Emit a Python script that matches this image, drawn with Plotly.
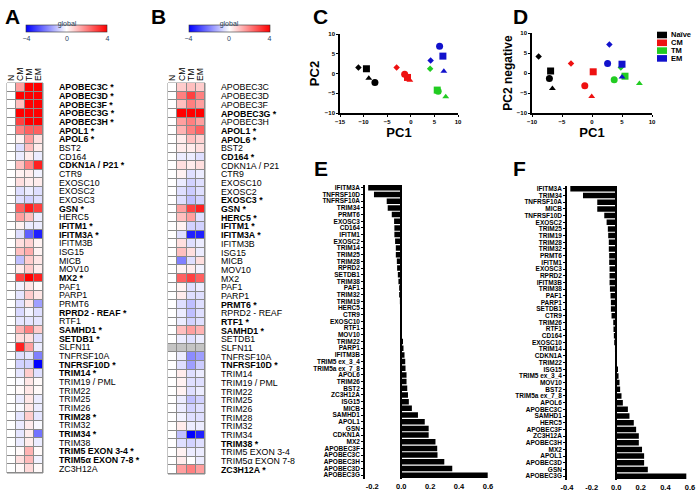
import plotly.graph_objects as go

FONT = "Liberation Sans"

# ---------------- heatmap data (A, B) ----------------
rows = ["APOBEC3C", "APOBEC3D", "APOBEC3F", "APOBEC3G", "APOBEC3H", "APOL1", "APOL6",
        "BST2", "CD164", "CDKN1A / P21", "CTR9", "EXOSC10", "EXOSC2", "EXOSC3", "GSN",
        "HERC5", "IFITM1", "IFITM3A", "IFITM3B", "ISG15", "MICB", "MOV10", "MX2", "PAF1",
        "PARP1", "PRMT6", "RPRD2 - REAF", "RTF1", "SAMHD1", "SETDB1", "SLFN11",
        "TNFRSF10A", "TNFRSF10D", "TRIM14", "TRIM19 / PML", "TRIM22", "TRIM25", "TRIM26",
        "TRIM28", "TRIM32", "TRIM34", "TRIM38", "TRIM5 EXON 3-4", "TRIM5α EXON 7-8",
        "ZC3H12A"]
cols = ["N", "CM", "TM", "EM"]

a_n = [0, 0, 0, 0, 0, 0, 0, 0, 0, 0, 0, 0, 0, 0, 0, 0, 0, 0, 0, 0, 0, 0, 0,
       0, 0, 0, 0, 0, 0, 0, 0, 0, 0, 0, 0, 0, 0, 0, 0, 0, 0, 0, 0, 0, 0]
a_cm = [1.5, 4, 1, 4, 3, 2, 0.2, -0.5, -0.3, 1, 0.2, 0.5, -0.5, -0.5, 2.5, 1.5, 0.2, -0.5,
        0.5, 1, -1, 0.3, 3, -0.2, -0.4, -0.5, -0.6, -0.4, 1.2, 0.5, 3.5, -0.5, -0.7,
        -0.4, -0.1, 0.1, -0.3, -0.1, -0.4, -0.3, -0.4, -0.3, 0.1, 0.5, 0.1]
a_tm = [4, 4, 4, 4, 4, 2.5, 1.5, 1, 0.3, 2, 0.3, 0.3, -0.3, -0.7, 3.5, 1, -0.3, -2.5,
        0.7, 1.3, 0.8, 0.8, 4, 0.4, 0.8, 0.4, -0.2, -0.4, 2, 0.5, 1.5, -0.4, -0.7,
        0.8, 0.4, 0.4, 0.4, 0.4, 0.8, 0.3, 0.3, 0.3, 1.2, 1.1, 0.6]
a_em = [4, 4, 4, 4, 4, 2.5, 0.5, 0.3, -0.3, 3.5, -0.2, 0.3, -0.5, -0.5, 3, -0.3, -0.3,
        -3.5, 0.2, 0.2, 0.4, 0.3, 3.5, 0.1, 0.4, -1.5, -0.5, -0.4, 0.8, -0.5, -0.3,
        -2, -4, -0.5, 0.1, 0.1, -0.3, -0.3, -0.4, -0.1, -2.2, -0.3, 0.1, -0.2, 0.1]
a_sig = ["APOBEC3C", "APOBEC3D", "APOBEC3F", "APOBEC3G", "APOBEC3H", "APOL1", "APOL6",
         "CDKN1A / P21", "GSN", "IFITM1", "IFITM3A", "MX2", "RPRD2 - REAF", "SAMHD1",
         "SETDB1", "TNFRSF10D", "TRIM14", "TRIM28", "TRIM34", "TRIM5 EXON 3-4",
         "TRIM5α EXON 7-8"]

b_n = [0, 0, 0, 0, 0, 0, 0, 0, 0, 0, 0, 0, 0, 0, 0, 0, 0, 0, 0, 0, 0, 0, 0,
       0, 0, 0, 0, 0, 0, 0, None, 0, 0, 0, 0, 0, 0, 0, 0, 0, 0, 0, 0, 0, 0]
b_cm = [0.8, 2, 1, 4, 1.5, 1.2, 0.3, 0.3, -0.3, 0.5, 0.2, -0.3, -0.5, -0.5, 1.5, 1, 0.2,
        -0.5, 0.5, 1, -2, 0.2, 2.5, 0.2, 0.3, -0.5, -0.3, -0.3, 1, -0.3, None, -0.3,
        -0.5, 0.3, 0.2, 0.2, -0.3, -0.3, -0.2, 0.3, -1, -0.5, 0.2, 0.3, 1.5]
b_tm = [1, 3, 2, 4, 2, 2, 1, 0.3, -0.3, 0.3, -0.5, -0.7, -0.8, -1, 3, 1.5, -0.7, -3.5,
        -0.5, 0.5, -0.5, 0.3, 3, -0.5, -0.5, -1, -1, -0.7, 1.5, -0.5, None, -1.8,
        -1.5, -0.5, -0.5, -0.5, -1, -0.7, -0.5, -0.3, -4, -0.7, -0.3, 0, 2]
b_em = [0.8, 2, 1.5, 4, 1.5, 2.5, 0.7, 0.5, -0.5, 0.5, -0.3, -0.5, -0.5, -0.7, 3.5,
        -0.5, -0.7, -3.5, -0.3, -0.3, 0.5, -0.2, 2.5, -0.3, -0.5, -0.5, -0.5, -0.5,
        1.2, -0.3, None, -1.5, -0.8, -0.3, -0.5, -0.3, -0.7, -0.5, -0.5, -0.3, -3.5,
        -0.5, -0.3, -0.3, 1.5]
b_sig = ["APOBEC3G", "APOL1", "APOL6", "CD164", "EXOSC3", "GSN", "HERC5", "IFITM1",
         "IFITM3A", "PRMT6", "RTF1", "SAMHD1", "TNFRSF10D", "TRIM38", "ZC3H12A"]

# ---------------- PCA data (C, D) ----------------
groups = ["Naïve", "CM", "TM", "EM"]
donors = ["diamond", "square", "triangle-up", "circle"]
c_x = {"Naïve": [-11.1, -9.4, -8.9, -7.6], "CM": [-3.0, -0.7, -0.2, -1.3],
       "TM": [4.1, 5.6, 7.4, 5.8], "EM": [4.2, 6.8, 7.0, 6.1]}
c_y = {"Naïve": [1.5, 1.2, -1.2, -2.3], "CM": [1.5, -1.0, -1.7, -0.2],
       "TM": [1.2, -4.2, -5.9, -4.5], "EM": [3.3, 4.4, 0.6, 6.9]}
d_x = {"Naïve": [-8.9, -6.9, -6.6, -7.1], "CM": [-3.5, 0.2, -0.05, -1.2],
       "TM": [4.8, 5.5, 7.9, 3.7], "EM": [2.9, 5.0, 5.0, 2.6]}
d_y = {"Naïve": [4.1, 0.5, -3.9, -1.4], "CM": [2.4, 0.3, -5.9, -3.2],
       "TM": [1.4, -0.8, -2.6, -1.7], "EM": [7.1, 2.2, -1.0, 2.4]}

# ---------------- correlation bars (E, F) ----------------
e_genes = ["IFITM3A", "TNFRSF10D", "TNFRSF10A", "TRIM34", "PRMT6", "EXOSC3", "CD164",
           "IFITM1", "EXOSC2", "TRIM14", "TRIM25", "TRIM28", "RPRD2", "SETDB1", "TRIM38",
           "PAF1", "TRIM32", "TRIM19", "HERC5", "CTR9", "EXOSC10", "RTF1", "MOV10",
           "TRIM22", "PARP1", "IFITM3B", "TRIM5 ex_3_4", "TRIM5a ex_7_8", "APOL6",
           "TRIM26", "BST2", "ZC3H12A", "ISG15", "MICB", "SAMHD1", "APOL1", "GSN",
           "CDKN1A", "MX2", "APOBEC3F", "APOBEC3C", "APOBEC3H", "APOBEC3D", "APOBEC3G"]
e_vals = [-0.228, -0.188, -0.10, -0.093, -0.065, -0.049, -0.047, -0.047, -0.042, -0.037,
          -0.037, -0.030, -0.028, -0.023, -0.019, -0.014, -0.014, -0.009, -0.007, -0.005,
          -0.004, -0.003, -0.002, 0.008, 0.016, 0.023, 0.028, 0.030, 0.037, 0.037, 0.042,
          0.047, 0.053, 0.074, 0.116, 0.163, 0.19, 0.19, 0.237, 0.249, 0.251, 0.298,
          0.353, 0.598]
f_genes = ["IFITM3A", "TRIM34", "TNFRSF10A", "MICB", "TNFRSF10D", "EXOSC2", "TRIM25",
           "TRIM19", "TRIM28", "TRIM32", "PRMT6", "IFITM1", "EXOSC3", "RPRD2", "IFITM3B",
           "TRIM38", "PAF1", "PARP1", "SETDB1", "CTR9", "TRIM26", "RTF1", "CD164",
           "EXOSC10", "TRIM14", "CDKN1A", "TRIM22", "ISG15", "TRIM5 ex_3_4", "MOV10",
           "BST2", "TRIM5a ex_7_8", "APOL6", "APOBEC3C", "SAMHD1", "HERC5", "APOBEC3F",
           "ZC3H12A", "APOBEC3H", "MX2", "APOL1", "APOBEC3D", "GSN", "APOBEC3G"]
f_vals = [-0.373, -0.27, -0.154, -0.154, -0.097, -0.078, -0.068, -0.065, -0.06, -0.06,
          -0.057, -0.057, -0.054, -0.054, -0.054, -0.051, -0.046, -0.043, -0.043, -0.038,
          -0.024, -0.022, -0.019, -0.016, -0.01, -0.005, 0.001, 0.014, 0.019, 0.027,
          0.032, 0.043, 0.054, 0.095, 0.108, 0.143, 0.162, 0.184, 0.184, 0.21, 0.227,
          0.227, 0.257, 0.57]
bar_ticks = [-0.4, -0.2, 0, 0.2, 0.4, 0.6]
bar_ticktext = ["-0.4", "-0.2", "0.0", "0.2", "0.4", "0.6"]

# ---------------- styles ----------------
group_colors = {"Naïve": "#000000", "CM": "#ee1111", "TM": "#22cc22", "EM": "#1111cc"}
symbol_size = {"diamond": 5, "square": 7, "triangle-up": 6, "circle": 7}
cscale = [[0, "#0000ff"], [0.5, "#ffffff"], [1, "#ff0000"]]

H = 493.0
W = 696.0


def px_x(p):
    return p / W


def px_y(p):
    return 1 - p / H


fig = go.Figure()


def add_heat(n, c_n, c_cm, c_tm, c_em, sig, xdom, ydom, cb_x):
    z = [[c_n[i], c_cm[i], c_tm[i], c_em[i]] for i in range(len(rows))]
    mask = [[1 if v is None else None for v in r] for r in z]
    xa = "x" if n == 1 else "x%d" % n
    ya = "y" if n == 1 else "y%d" % n
    fig.add_trace(go.Heatmap(
        z=z, x=cols, y=rows, xaxis=xa, yaxis=ya, zmin=-4, zmax=4, colorscale=cscale,
        xgap=1, ygap=1, hoverongaps=False,
        colorbar=dict(orientation="h", x=cb_x, xanchor="center", y=px_y(17),
                      yanchor="top", len=81, lenmode="pixels", thickness=7,
                      thicknessmode="pixels",
                      title=dict(text="global", side="top", font=dict(size=7, family=FONT)),
                      tickvals=[-4, 0, 4], ticks="", tickfont=dict(size=7, family=FONT),
                      outlinewidth=0.6, outlinecolor="#333", ypad=0, xpad=0)))
    fig.add_trace(go.Heatmap(
        z=mask, x=cols, y=rows, xaxis=xa, yaxis=ya, zmin=0, zmax=1,
        colorscale=[[0, "#c4c4c4"], [1, "#c4c4c4"]], showscale=False, xgap=1, ygap=1,
        hoverongaps=False))
    ticktext = [("<b>%s *</b>" % r) if r in sig else r for r in rows]
    key = "" if n == 1 else str(n)
    fig.update_layout(**{
        "xaxis" + key: dict(domain=xdom, anchor=ya, side="top", tickangle=-90,
                            tickmode="array", tickvals=cols, ticktext=cols,
                            tickfont=dict(size=8.5, family=FONT, color="#000"), ticks="",
                            showgrid=False, zeroline=False, showline=False,
                            ticklabelstandoff=1, automargin=False),
        "yaxis" + key: dict(domain=ydom, anchor=xa, side="right", autorange="reversed",
                            tickmode="array", tickvals=rows, ticktext=ticktext,
                            tickfont=dict(size=8.8, family=FONT, color="#000"), ticks="",
                            showgrid=False, zeroline=False, showline=False,
                            ticklabelstandoff=15, automargin=False),
    })
    fig.add_shape(type="rect", xref=xa + " domain", yref=ya + " domain", x0=0, x1=1,
                  y0=0, y1=1, fillcolor="#8a8a8a", line=dict(color="#8a8a8a", width=1),
                  layer="below")


add_heat(1, a_n, a_cm, a_tm, a_em, a_sig, [px_x(7), px_x(43)], [px_y(473), px_y(83)],
         px_x(67))
add_heat(2, b_n, b_cm, b_tm, b_em, b_sig, [px_x(168), px_x(205)], [px_y(474), px_y(83)],
         px_x(229))


def add_pca(n, xs, ys):
    xa, ya = "x%d" % n, "y%d" % n
    for g in groups:
        fig.add_trace(go.Scatter(
            x=xs[g], y=ys[g], mode="markers", xaxis=xa, yaxis=ya, showlegend=False,
            name=g,
            marker=dict(color=group_colors[g], symbol=donors, opacity=1,
                        size=[symbol_size[s] for s in donors], line=dict(width=0))))


add_pca(3, c_x, c_y)
add_pca(4, d_x, d_y)

scat_axis = dict(showline=True, linecolor="#000", linewidth=1.6, ticks="outside",
                 ticklen=2, tickwidth=1, tickcolor="#000", showgrid=False, zeroline=False,
                 tickfont=dict(size=6, family=FONT, weight="bold", color="#000"),
                 dtick=5, mirror=False, automargin=False)
fig.update_layout(
    xaxis3=dict(scat_axis, domain=[px_x(340), px_x(458)], anchor="y3", range=[-15, 10],
                tick0=-15,
                title=dict(text="PC1", font=dict(size=13, family=FONT, weight="bold",
                                                 color="#000"), standoff=2)),
    yaxis3=dict(scat_axis, domain=[px_y(113), px_y(34)], anchor="x3", range=[-10, 10],
                tick0=-10,
                title=dict(text="PC2", font=dict(size=13, family=FONT, weight="bold",
                                                 color="#000"), standoff=2)),
    xaxis4=dict(scat_axis, domain=[px_x(532), px_x(652)], anchor="y4", range=[-10, 10],
                tick0=-10,
                title=dict(text="PC1", font=dict(size=13, family=FONT, weight="bold",
                                                 color="#000"), standoff=2)),
    yaxis4=dict(scat_axis, domain=[px_y(113), px_y(33)], anchor="x4", range=[-10, 10],
                tick0=-10,
                title=dict(text="PC2 negative", font=dict(size=12, family=FONT,
                                                          weight="bold", color="#000"),
                           standoff=2)),
)

# legend of panel D (group colour key)
for i, g in enumerate(groups):
    yc = 35 + 7.8 * i
    fig.add_shape(type="rect", xref="paper", yref="paper", x0=px_x(657), x1=px_x(667),
                  y0=px_y(yc + 3.3), y1=px_y(yc - 3.3), fillcolor=group_colors[g],
                  line=dict(width=0))
    fig.add_annotation(text="<b>%s</b>" % g, xref="paper", yref="paper", x=px_x(670),
                       y=px_y(yc), xanchor="left", yanchor="middle", showarrow=False,
                       borderpad=0, font=dict(size=7.5, family=FONT, color="#000"))


def add_bars(n, genes, vals, xdom, ydom, xr):
    xa, ya = "x%d" % n, "y%d" % n
    fig.add_trace(go.Bar(x=vals, y=genes, orientation="h", xaxis=xa, yaxis=ya,
                         marker=dict(color="#000", line=dict(width=0)), showlegend=False))
    fig.update_layout(**{
        "xaxis%d" % n: dict(domain=xdom, anchor=ya, range=xr, tickvals=bar_ticks,
                            ticktext=bar_ticktext,
                            tickfont=dict(size=7.5, family=FONT, weight="bold", color="#000"),
                            showgrid=False, zeroline=True, zerolinecolor="#000",
                            zerolinewidth=2, showline=False, ticks="",
                            ticklabelstandoff=2, automargin=False),
        "yaxis%d" % n: dict(domain=ydom, anchor=xa, autorange="reversed", showline=True,
                            linecolor="#000", linewidth=1.5, ticks="outside", ticklen=2,
                            tickcolor="#000", tickmode="array", tickvals=genes,
                            ticktext=genes, automargin=False,
                            tickfont=dict(size=6.5, family=FONT, weight="bold", color="#000"),
                            showgrid=False, zeroline=False),
    })


add_bars(5, e_genes, e_vals, [px_x(365), px_x(488)], [px_y(478.5), px_y(184.5)],
         [-0.25, 0.6])
add_bars(6, f_genes, f_vals, [px_x(567), px_x(690)], [px_y(479.5), px_y(185.5)],
         [-0.4, 0.6])

# panel letters
for letter, lx, ly in [("A", 4, 16), ("B", 150, 16), ("C", 312, 16), ("D", 512, 16),
                       ("E", 313, 168), ("F", 512, 168)]:
    fig.add_annotation(text="<b>%s</b>" % letter, xref="paper", yref="paper",
                       x=px_x(lx), y=px_y(ly), xanchor="left", yanchor="middle",
                       showarrow=False, borderpad=0,
                       font=dict(size=21, family=FONT, color="#000"))

fig.update_layout(
    width=696, height=493, margin=dict(l=0, r=0, t=0, b=0, autoexpand=False),
    paper_bgcolor="#fff", plot_bgcolor="#fff", bargap=0.18, showlegend=False,
)

fig.write_html("out.html", config={"displayModeBar": False},
               post_script="document.body.style.margin='0';"
                           "document.body.style.overflow='hidden';")
